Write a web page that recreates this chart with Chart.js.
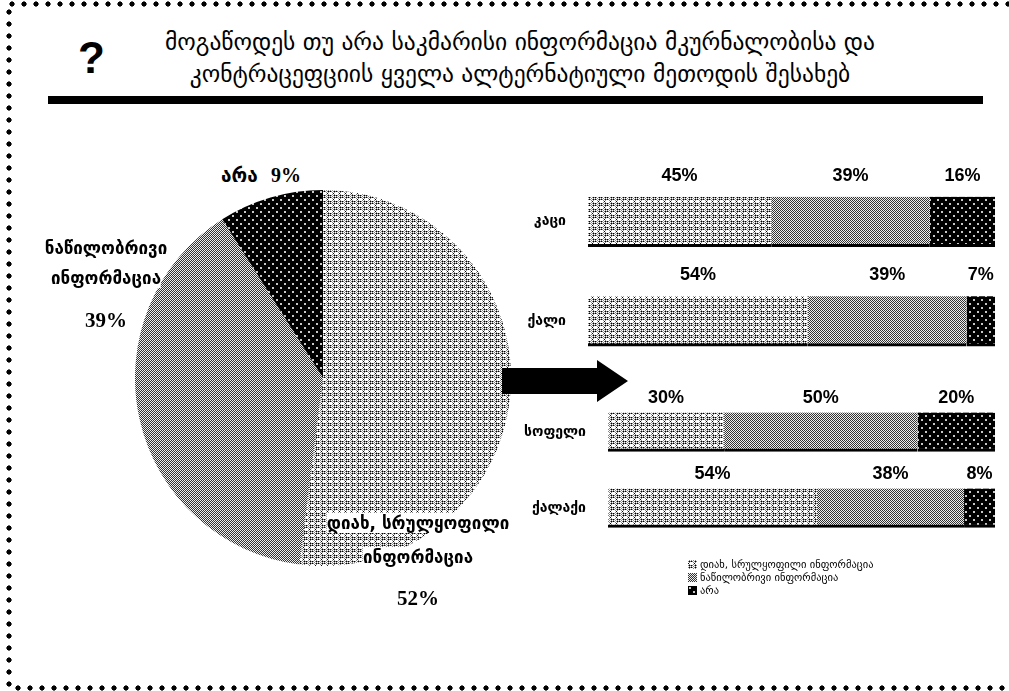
<!DOCTYPE html>
<html>
<head>
<meta charset="utf-8">
<script src="https://cdn.jsdelivr.net/npm/chart.js@4/dist/chart.umd.min.js"></script>
<style>
  html, body { margin: 0; padding: 0; background: #fff; }
  #page { position: relative; width: 1009px; height: 691px; overflow: hidden; font-family: "DejaVu Sans", sans-serif; color: #000; }
  .dots-h { position: absolute; height: 6px; background-image: radial-gradient(circle, #000 2.3px, transparent 2.9px); background-size: 12px 6px; background-repeat: repeat-x; }
  .dots-v { position: absolute; width: 6px; background-image: radial-gradient(circle, #000 2.3px, transparent 2.9px); background-size: 6px 12px; background-repeat: repeat-y; }
  #q { position: absolute; left: 78px; top: 33px; font: bold 44px "Liberation Sans", Arial, sans-serif; }
  #title { position: absolute; left: 70px; width: 900px; top: 26px; text-align: center; font-size: 23.5px; line-height: 32px; }
  #rule { position: absolute; left: 48px; top: 96px; width: 935px; height: 8px; background: #000; }
  canvas { position: absolute; }
  .plab { position: absolute; text-align: center; font: bold 17px "DejaVu Sans", sans-serif; transform: translateX(-50%); white-space: nowrap; }
  .plab .ln { background: #fff; }
  .plab .pct { font: bold 21px "Liberation Serif", "Times New Roman", serif; }
  #legend { position: absolute; left: 688px; top: 558px; font-size: 10.5px; line-height: 13px; }
  #legend div { display: flex; align-items: center; white-space: nowrap; }
  #legend canvas { position: static; margin-right: 3px; }
</style>
</head>
<body>
<div id="page">
  <div class="dots-h" style="left:6px; top:1px; width:1003px;"></div>
  <div class="dots-v" style="left:6px; top:6px; height:684px;"></div>
  <div class="dots-h" style="left:12px; top:685px; width:997px;"></div>

  <div id="q">?</div>
  <div id="title">მოგაწოდეს თუ არა საკმარისი ინფორმაცია მკურნალობისა და<br>კონტრაცეფციის ყველა ალტერნატიული მეთოდის შესახებ</div>
  <div id="rule"></div>

  <canvas id="pie" width="376" height="376" style="left:135px; top:190px;"></canvas>
  <div id="pieLabels"></div>

  <svg style="position:absolute; left:0; top:0;" width="1009" height="691">
    <polygon points="502,368 597,368 597,360 628,381 597,402 597,394 502,394" fill="#000"/>
  </svg>

  <canvas id="barsA" width="480" height="230" style="left:520px; top:150px;"></canvas>
  <canvas id="barsB" width="480" height="190" style="left:520px; top:370px;"></canvas>
  <div id="legend"></div>
</div>

<script>
// ── données ───────────────────────────────────────────────────────────────
const answerLabels = ["დიახ, სრულყოფილი ინფორმაცია", "ნაწილობრივი ინფორმაცია", "არა"];
const totalValues  = [52, 39, 9];

const genderLabels  = ["კაცი", "ქალი"];
const genderYes     = [45, 54];
const genderPartial = [39, 39];
const genderNo      = [16, 7];

const placeLabels  = ["სოფელი", "ქალაქი"];
const placeYes     = [30, 54];
const placePartial = [50, 38];
const placeNo      = [20, 8];

// ── motifs (hachures) ─────────────────────────────────────────────────────
function tile(rows, colors) {
  const c = document.createElement("canvas");
  c.width = rows[0].length; c.height = rows.length;
  const g = c.getContext("2d");
  rows.forEach((r, y) => [...r].forEach((ch, x) => {
    g.fillStyle = colors[ch];
    g.fillRect(x, y, 1, 1);
  }));
  return c;
}
const PAL = { "#": "#000", "d": "#333", ".": "#fff", "e": "#eee", "g": "#888", "l": "#c8c8c8" };
const tiles = [
  // clair : losanges blancs sur treillis
  tile([
    ".g.g.g",
    "g#g#g.",
    ".g...g",
    "#.....",
    ".g...g",
    "g#g#g.",
  ], PAL),
  // moyen : damier fin
  tile([
    "de",
    "ed",
  ], PAL),
  // foncé : noir à points clairs
  tile([
    "########",
    "#ll#####",
    "#ll#####",
    "########",
    "########",
    "#####ll#",
    "#####ll#",
    "########",
  ], PAL),
];

const patCtx = document.createElement("canvas").getContext("2d");
const patterns = tiles.map((t) => patCtx.createPattern(t, "repeat"));

// ── camembert ─────────────────────────────────────────────────────────────
new Chart(document.getElementById("pie"), {
  type: "pie",
  data: {
    labels: answerLabels,
    datasets: [{
      data: totalValues,
      backgroundColor: patterns,
      borderWidth: 0,
      offset: 0,
      hoverOffset: 0,
    }],
  },
  options: {
    responsive: false,
    animation: false,
    layout: { padding: 0 },
    events: [],
    plugins: { legend: { display: false }, tooltip: { enabled: false } },
  },
});

// étiquettes du camembert (centre x, haut y)
const pieLabelPos = [
  { x: 418, y: 506, gap: 12, lh: 34 },
  { x: 106, y: 233, gap: 15, lh: 30 },
  { x: 261, y: 162, gap: 0, lh: 26 },
];
const pieBox = document.getElementById("pieLabels");
answerLabels.forEach((lab, i) => {
  const p = pieLabelPos[i];
  const d = document.createElement("div");
  d.className = "plab";
  d.style.left = p.x + "px";
  d.style.top = p.y + "px";
  d.style.lineHeight = p.lh + "px";
  if (lab.includes(" ")) {
    const k = lab.lastIndexOf(" ");
    d.innerHTML = `<span class="ln">${lab.slice(0, k)}</span><br><span class="ln">${lab.slice(k + 1)}</span>` +
      `<div class="pct" style="margin-top:${p.gap}px">${totalValues[i]}%</div>`;
  } else {
    d.style.fontSize = "19px";
    d.innerHTML = `${lab}&nbsp; <span class="pct" style="font-size:20px">${totalValues[i]}%</span>`;
  }
  pieBox.appendChild(d);
});

// ── barres empilées ───────────────────────────────────────────────────────
function valueLabels(offset) {
  return {
    id: "valueLabels",
    afterDatasetsDraw(chart) {
      const { ctx } = chart;
      ctx.save();
      ctx.fillStyle = "#000";
      ctx.font = "bold 18px 'Liberation Sans', Arial, sans-serif";
      ctx.textAlign = "center";
      ctx.textBaseline = "middle";
      chart.data.datasets.forEach((ds, di) => {
        chart.getDatasetMeta(di).data.forEach((el, i) => {
          const { x, y, base, height } = el.getProps(["x", "y", "base", "height"], true);
          ctx.fillText(ds.data[i] + "%", (x + base) / 2, y - height / 2 - offset);
        });
      });
      ctx.restore();
    },
  };
}

function stackedBars(id, cats, series, thick, yWidth, pad, offset) {
  return new Chart(document.getElementById(id), {
    type: "bar",
    data: {
      labels: cats,
      datasets: series.map((vals, i) => ({
        label: answerLabels[i],
        data: vals,
        backgroundColor: patterns[i],
        borderColor: "#000",
        borderWidth: { top: 0, right: 0, bottom: 3, left: 0 },
        borderSkipped: false,
        barThickness: thick,
      })),
    },
    options: {
      indexAxis: "y",
      responsive: false,
      animation: false,
      events: [],
      layout: { padding: pad },
      plugins: { legend: { display: false }, tooltip: { enabled: false } },
      scales: {
        x: { stacked: true, min: 0, max: 100, display: false },
        y: {
          stacked: true,
          grid: { display: false },
          border: { display: false },
          ticks: { color: "#000", padding: 14, font: { family: "'DejaVu Sans', sans-serif", size: 14, weight: "bold" } },
          afterFit(s) { s.width = yWidth; s.paddingTop = 0; s.paddingBottom = 0; },
        },
      },
    },
    plugins: [valueLabels(offset)],
  });
}

stackedBars("barsA", genderLabels, [genderYes, genderPartial, genderNo], 50, 68,
  { top: 22, bottom: 9, right: 5, left: 0 }, 21);
stackedBars("barsB", placeLabels, [placeYes, placePartial, placeNo], 39, 88,
  { top: 24, bottom: 14, right: 5, left: 0 }, 14);

// ── légende ───────────────────────────────────────────────────────────────
const legend = document.getElementById("legend");
answerLabels.forEach((lab, i) => {
  const row = document.createElement("div");
  const sw = document.createElement("canvas");
  sw.width = 9; sw.height = 9;
  const g = sw.getContext("2d");
  g.fillStyle = patterns[i];
  g.fillRect(0, 0, 9, 9);
  row.appendChild(sw);
  row.appendChild(document.createTextNode(lab));
  legend.appendChild(row);
});
</script>
</body>
</html>
